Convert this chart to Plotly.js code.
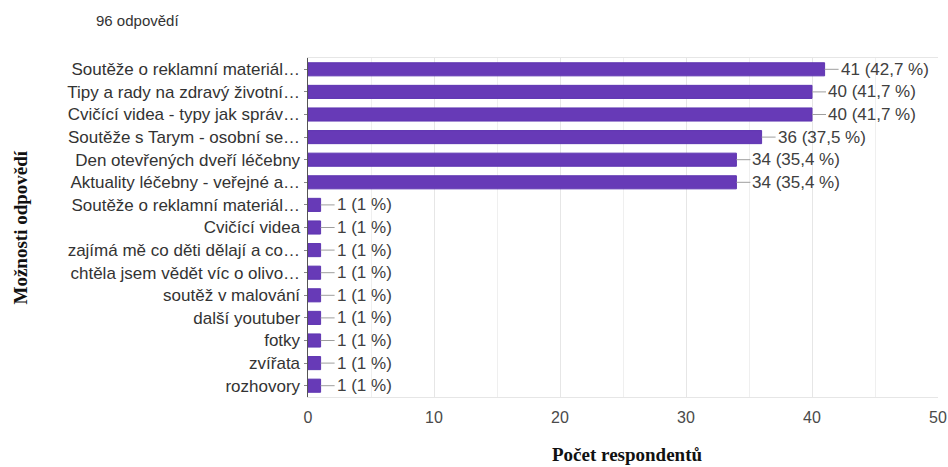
<!DOCTYPE html>
<html>
<head>
<meta charset="utf-8">
<script src="https://cdn.plot.ly/plotly-3.0.1.min.js"></script>
<style>html,body{margin:0;padding:0;background:#fff;}#chart{width:948px;height:467px;}</style>
</head>
<body>
<div id="chart"></div>
<script>
// Answer options (truncated as in the survey export) and number of respondents
const options = [
  "Soutěže o reklamní materiál…",
  "Tipy a rady na zdravý životní…",
  "Cvičící videa - typy jak správ…",
  "Soutěže s Tarym - osobní se…",
  "Den otevřených dveří léčebny",
  "Aktuality léčebny - veřejné a…",
  "Soutěže o reklamní materiál…",
  "Cvičící videa",
  "zajímá mě co děti dělají a co…",
  "chtěla jsem vědět víc o olivo…",
  "soutěž v malování",
  "další youtuber",
  "fotky",
  "zvířata",
  "rozhovory"
];
const counts = [41, 40, 40, 36, 34, 34, 1, 1, 1, 1, 1, 1, 1, 1, 1];
const shares = ["42,7", "41,7", "41,7", "37,5", "35,4", "35,4", "1", "1", "1", "1", "1", "1", "1", "1", "1"];
const xTicks = [0, 10, 20, 30, 40, 50];
const totalResponses = "96 odpovědí";
const xTitle = "Počet respondentů";
const yTitle = "Možnosti odpovědí";

const rows = options.map((_, i) => i);
const sans = "Arial, Liberation Sans, sans-serif";
const serif = "Liberation Serif, Times New Roman, serif";

const trace = {
  type: "bar",
  orientation: "h",
  x: counts,
  y: rows,
  width: 0.58,
  marker: {color: "#673ab7", line: {color: "#5e35b1", width: 1}},
  hoverinfo: "skip"
};

// Value labels with a short grey leader line from the bar end
const notes = counts.map((v, i) => ({
  x: v, y: i, xref: "x", yref: "y",
  text: v + " (" + shares[i] + " %)",
  showarrow: true, arrowhead: 0, arrowwidth: 1, arrowcolor: "#9e9e9e",
  ax: 14, ay: 0, standoff: 0, startstandoff: 0,
  xanchor: "left",
  font: {family: sans, size: 17, color: "#404040"}
}));

notes.push({
  xref: "paper", yref: "paper", x: -0.339, y: 1.0, yshift: 38,
  xanchor: "left", yanchor: "middle", showarrow: false,
  text: totalResponses,
  font: {family: sans, size: 15, color: "#333"}
});

// Axis titles
notes.push({
  xref: "paper", yref: "paper", x: 0.5, y: 0, yshift: -57, xshift: 4,
  xanchor: "center", yanchor: "middle", showarrow: false,
  text: "<b>" + xTitle + "</b>",
  font: {family: serif, size: 19, color: "#111"}
});
notes.push({
  xref: "paper", yref: "paper", x: 0, xshift: -288, y: 0.5,
  xanchor: "center", yanchor: "middle", showarrow: false, textangle: -90,
  text: "<b>" + yTitle + "</b>",
  font: {family: serif, size: 19, color: "#111"}
});

const layout = {
  width: 948, height: 467,
  margin: {l: 308, r: 10, t: 58, b: 70},
  paper_bgcolor: "#fff", plot_bgcolor: "#fff",
  showlegend: false,
  xaxis: {
    range: [0, 50],
    tickvals: xTicks,
    ticktext: xTicks.map(String),
    showgrid: true, gridcolor: "#e6e6e6", gridwidth: 1,
    minor: {dtick: 5, tick0: 0, showgrid: true, gridcolor: "#efefef", gridwidth: 1},
    zeroline: false,
    showline: true, linecolor: "#e6e6e6", mirror: true,
    ticks: "outside", ticklen: 6, tickcolor: "rgba(0,0,0,0)",
    tickfont: {family: sans, size: 16, color: "#4a4a4a"},
    automargin: false
  },
  yaxis: {
    range: [14.5, -0.5],
    tickvals: rows,
    ticktext: options,
    showgrid: false, zeroline: false,
    showline: true, linecolor: "#555", linewidth: 1.5,
    ticks: "outside", ticklen: 3, tickcolor: "#888",
    tickfont: {family: sans, size: 17, color: "#333"},
    automargin: false
  },
  annotations: notes
};

Plotly.newPlot("chart", [trace], layout, {displayModeBar: false, staticPlot: true});
</script>
</body>
</html>
